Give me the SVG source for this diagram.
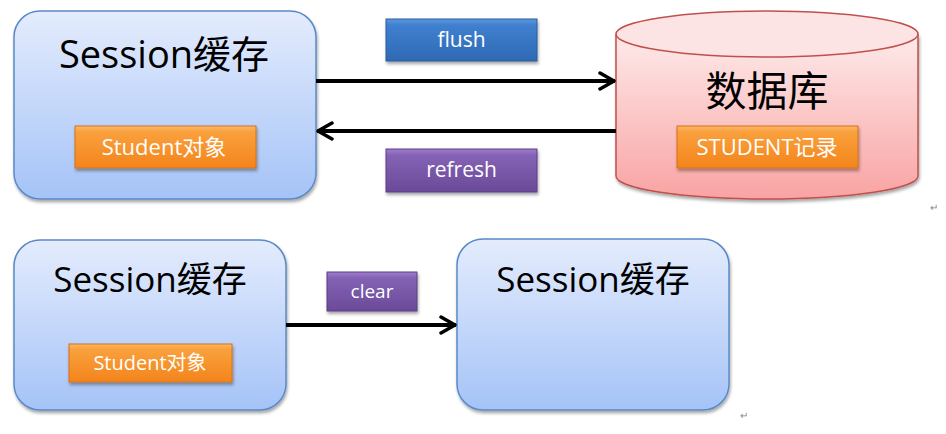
<svg xmlns="http://www.w3.org/2000/svg" width="946" height="434" viewBox="0 0 946 434">
<defs>
<linearGradient id="gBlue" x1="0" y1="0" x2="0" y2="1"><stop offset="0" stop-color="#e4ecfd"/><stop offset="1" stop-color="#a5c3f7"/></linearGradient>
<linearGradient id="gOrange" x1="0" y1="0" x2="0" y2="1"><stop offset="0" stop-color="#fbb765"/><stop offset="0.15" stop-color="#f9a03c"/><stop offset="1" stop-color="#f4841c"/></linearGradient>
<linearGradient id="gFlush" x1="0" y1="0" x2="0" y2="1"><stop offset="0" stop-color="#5d97dc"/><stop offset="0.15" stop-color="#3f80cf"/><stop offset="1" stop-color="#2f69b3"/></linearGradient>
<linearGradient id="gPurple" x1="0" y1="0" x2="0" y2="1"><stop offset="0" stop-color="#a07dcb"/><stop offset="0.15" stop-color="#8462b5"/><stop offset="1" stop-color="#6a4a98"/></linearGradient>
<linearGradient id="gRed" x1="0" y1="0" x2="0" y2="1"><stop offset="0" stop-color="#feeaea"/><stop offset="1" stop-color="#f9a3a3"/></linearGradient>
<filter id="sh" x="-10%" y="-10%" width="125%" height="130%"><feDropShadow dx="1" dy="2.5" stdDeviation="1.8" flood-color="#000" flood-opacity="0.35"/></filter>
<marker id="ah" viewBox="0 0 18 20" refX="17" refY="10" markerWidth="18" markerHeight="20" markerUnits="userSpaceOnUse" orient="auto"><path d="M2,2 L16,10 L2,18" fill="none" stroke="#000" stroke-width="3.5" stroke-linecap="round" stroke-linejoin="round"/></marker>
<style>
.box{fill:url(#gBlue);stroke:#5a8ac6;stroke-width:1.5}
.obj{fill:url(#gOrange);stroke:#d5721a;stroke-width:1}
.title{font-family:"Open Sans","Noto Sans CJK SC",sans-serif;fill:#000;text-anchor:middle}
.lbl{font-family:"Open Sans","Noto Sans CJK SC",sans-serif;fill:#fff;text-anchor:middle}
.conn{stroke:#000;stroke-width:4;fill:none;marker-end:url(#ah)}
.ret{font-family:"Liberation Sans",sans-serif;font-size:10px;fill:#888}
</style>
</defs>

<g id="session1">
<rect class="box" x="14" y="11" width="302" height="188" rx="26" filter="url(#sh)"/>
<text class="title" x="164" y="68" font-size="38">Session缓存</text>
<g id="student1">
<rect class="obj" x="75" y="126" width="181" height="42" filter="url(#sh)"/>
<text class="lbl" x="164" y="155" font-size="22">Student对象</text>
</g>
</g>

<g id="flush">
<rect x="386" y="19" width="151" height="42" fill="url(#gFlush)" stroke="#2a5d9e" stroke-width="1" filter="url(#sh)"/>
<text class="lbl" x="461.5" y="47" font-size="21">flush</text>
</g>

<g id="refresh">
<rect x="386" y="149" width="151" height="43" fill="url(#gPurple)" stroke="#5b3f86" stroke-width="1" filter="url(#sh)"/>
<text class="lbl" x="461.5" y="177" font-size="21">refresh</text>
</g>

<g id="database">
<path d="M616,34 L616,176 A151,23 0 0 0 918,176 L918,34" fill="url(#gRed)" stroke="#c0504d" stroke-width="1.5" filter="url(#sh)"/>
<ellipse cx="767" cy="34" rx="151" ry="23" fill="#fde4e4" stroke="#c0504d" stroke-width="1.5"/>
<text class="title" x="767" y="106" font-size="41">数据库</text>
<g id="record">
<rect class="obj" x="677" y="126" width="181" height="42" filter="url(#sh)"/>
<text class="lbl" x="767" y="155" font-size="22">STUDENT记录</text>
</g>
</g>

<g id="session2">
<rect class="box" x="14" y="240" width="272" height="170" rx="26" filter="url(#sh)"/>
<text class="title" x="150" y="292" font-size="35">Session缓存</text>
<g id="student2">
<rect class="obj" x="69" y="344" width="163" height="38" filter="url(#sh)"/>
<text class="lbl" x="150" y="370" font-size="20">Student对象</text>
</g>
</g>

<g id="clear">
<rect x="327" y="272" width="90" height="39" fill="url(#gPurple)" stroke="#5b3f86" stroke-width="1" filter="url(#sh)"/>
<text class="lbl" x="372" y="298" font-size="19">clear</text>
</g>

<g id="session3">
<rect class="box" x="457" y="239" width="272" height="171" rx="26" filter="url(#sh)"/>
<text class="title" x="593" y="292" font-size="35">Session缓存</text>
</g>

<g id="connectors">
<line class="conn" x1="316" y1="81" x2="615" y2="81"/>
<line class="conn" x1="616" y1="131" x2="317" y2="131"/>
<line class="conn" x1="286" y1="325" x2="456" y2="325"/>
</g>

<text class="ret" x="930" y="211">↵</text>
<text class="ret" x="740" y="419">↵</text>
</svg>
